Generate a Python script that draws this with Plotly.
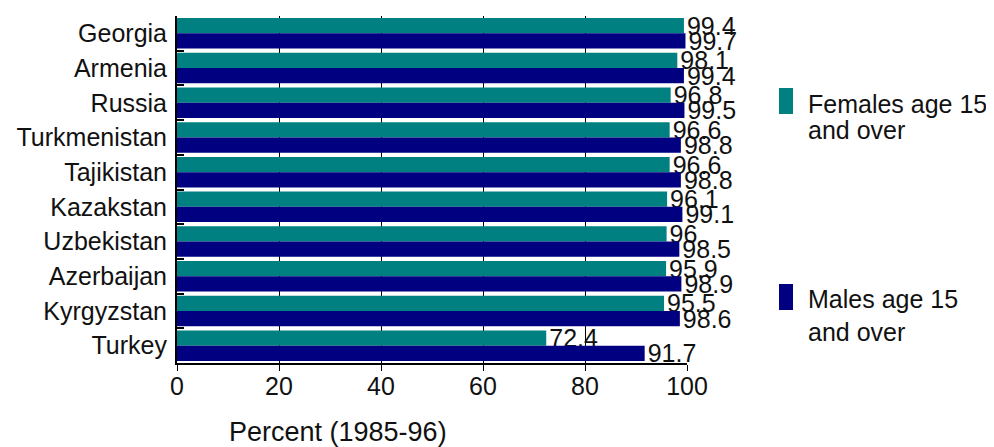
import plotly.graph_objects as go

countries = ["Georgia", "Armenia", "Russia", "Turkmenistan", "Tajikistan",
             "Kazakstan", "Uzbekistan", "Azerbaijan", "Kyrgyzstan", "Turkey"]
females = [99.4, 98.1, 96.8, 96.6, 96.6, 96.1, 96, 95.9, 95.5, 72.4]
males = [99.7, 99.4, 99.5, 98.8, 98.8, 99.1, 98.5, 98.9, 98.6, 91.7]
x_ticks = [0, 20, 40, 60, 80, 100]
series_names = [["Females age 15", "and over"], ["Males age 15", "and over"]]
series_colors = ["#008080", "#000080"]

FONT = "Liberation Sans, Arial, sans-serif"
TXT = "#111111"

fig = go.Figure()
for vals, names, col in zip([females, males], series_names, series_colors):
    fig.add_trace(go.Bar(
        y=countries, x=vals, orientation="h", name=" ".join(names),
        marker=dict(color=col, line=dict(width=0)),
        text=[str(v) for v in vals], textposition="outside", constraintext="none",
        textfont=dict(size=25, color=TXT, family=FONT),
        cliponaxis=False, showlegend=False,
    ))

# manual legend (tall swatches + two-line labels, as in the reference)
legend_y = [(0.7176, 0.7925, 0.745, 0.6706), (0.1527, 0.2277, 0.183, 0.0885)]
shapes = []
annotations = []
for (y0, y1, t1, t2), names, col in zip(legend_y, series_names, series_colors):
    shapes.append(dict(type="rect", xref="paper", yref="paper", x0=1.1804, x1=1.2078,
                       y0=y0, y1=y1, fillcolor=col, line=dict(width=0)))
    for txt, ty in zip(names, (t1, t2)):
        annotations.append(dict(text=txt, xref="paper", yref="paper", x=1.233, y=ty,
                                xanchor="left", yanchor="middle", showarrow=False,
                                font=dict(size=25, family=FONT, color=TXT)))

annotations.append(dict(text="Percent (1985-96)", xref="paper", yref="paper",
                        x=0.316, y=-0.2, xanchor="center", yanchor="middle",
                        showarrow=False, font=dict(size=27, family=FONT, color=TXT)))

fig.update_layout(
    width=987, height=440,
    margin=dict(l=169, r=308, t=8, b=85),
    barmode="group", bargap=0.12, bargroupgap=0,
    plot_bgcolor="white", paper_bgcolor="white",
    font=dict(family=FONT, size=25, color=TXT),
    showlegend=False,
    xaxis=dict(range=[0, 100], tickvals=x_ticks, showgrid=True, gridcolor="black",
               gridwidth=1, showline=True, linecolor="black", linewidth=2,
               ticks="outside", ticklen=6, tickcolor="black", zeroline=False,
               ticklabelstandoff=-6, tickfont=dict(size=25)),
    yaxis=dict(autorange="reversed", showline=True, linecolor="black", linewidth=2,
               ticks="inside", tickson="boundaries", ticklen=7, tickcolor="black",
               tickwidth=2, showgrid=False, ticklabelstandoff=3, tickfont=dict(size=25)),
    shapes=shapes,
    annotations=annotations,
)

fig.write_html("out.html")
